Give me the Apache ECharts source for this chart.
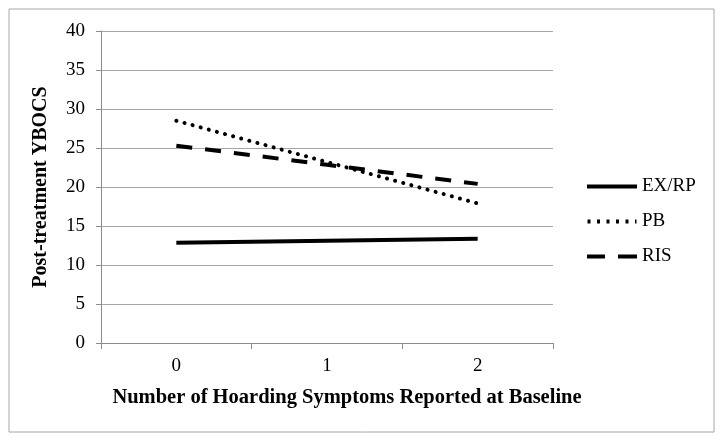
<!DOCTYPE html>
<html><head><meta charset="utf-8">
<script src="https://cdn.jsdelivr.net/npm/echarts@6/dist/echarts.min.js"></script>
<style>html,body{margin:0;padding:0;background:#fff}#c{width:722px;height:441px}</style>
</head><body><div id="c"></div>
<script>
const categories = ['0', '1', '2'];
const seriesNames = ['EX/RP', 'PB', 'RIS'];
const exrp = [12.85, 13.1, 13.35];
const pb = [28.5, 23.2, 17.9];
const ris = [25.3, 22.85, 20.4];
const yTicks = { min: 0, max: 40, interval: 5 };

const font = '"Liberation Serif", serif';
const icons = {
  'EX/RP': 'path://M0,0h50v4h-50z',
  'PB': 'path://M1,0h3v4h-3zM10.5,0h3v4h-3zM20,0h3v4h-3zM29.5,0h3v4h-3zM39,0h3v4h-3zM48.5,0h1.5v4h-1.5z',
  'RIS': 'path://M0,0h18v4h-18zM31,0h19v4h-19z'
};
const chart = echarts.init(document.getElementById('c'), null, { renderer: 'canvas' });
chart.setOption({
  backgroundColor: '#fff',
  animation: false,
  graphic: [{ type: 'rect', shape: { x: 9, y: 9, width: 705, height: 423 }, style: { fill: 'none', stroke: '#a6a6a6', lineWidth: 1 } }],
  title: {
    text: 'Number of Hoarding Symptoms Reported at Baseline',
    left: 342, top: 382, textAlign: 'center',
    textStyle: { fontFamily: font, fontWeight: 'bold', fontSize: 20.5, color: '#000' }
  },
  grid: { left: 101, right: 169, top: 31, bottom: 98, containLabel: false },
  legend: {
    orient: 'vertical', left: 582, top: 172, itemWidth: 50, itemHeight: 4, itemGap: 16,
    itemStyle: { color: '#000', borderWidth: 0 },
    textStyle: { fontFamily: font, fontSize: 19, color: '#000' },
    data: seriesNames.map(n => ({ name: n, icon: icons[n] }))
  },
  xAxis: {
    type: 'category', data: categories, boundaryGap: true,
    axisLine: { lineStyle: { color: '#8c8c8c', width: 1 } },
    axisTick: { show: true, length: 6, lineStyle: { color: '#8c8c8c' } },
    axisLabel: { fontFamily: font, fontSize: 19, color: '#000', margin: 14 }
  },
  yAxis: {
    type: 'value', min: yTicks.min, max: yTicks.max, interval: yTicks.interval,
    name: 'Post-treatment YBOCS', nameLocation: 'middle', nameGap: 50,
    nameTextStyle: { fontFamily: font, fontWeight: 'bold', fontSize: 20, color: '#000' },
    axisLine: { show: true, lineStyle: { color: '#8c8c8c', width: 1 } },
    axisTick: { show: true, length: 5, lineStyle: { color: '#8c8c8c' } },
    splitLine: { lineStyle: { color: '#a6a6a6', width: 1 } },
    axisLabel: { fontFamily: font, fontSize: 19, color: '#000', margin: 16 }
  },
  series: [
    { name: seriesNames[0], type: 'line', data: exrp, symbol: 'none', lineStyle: { color: '#000', width: 4, type: 'solid' }, itemStyle: { color: '#000' } },
    { name: seriesNames[1], type: 'line', data: pb, symbol: 'none', lineStyle: { color: '#000', width: 4, type: [0.1, 8.3], cap: 'round' }, itemStyle: { color: '#000' } },
    { name: seriesNames[2], type: 'line', data: ris, symbol: 'none', lineStyle: { color: '#000', width: 4, type: [16, 13] }, itemStyle: { color: '#000' } }
  ]
});
</script></body></html>
